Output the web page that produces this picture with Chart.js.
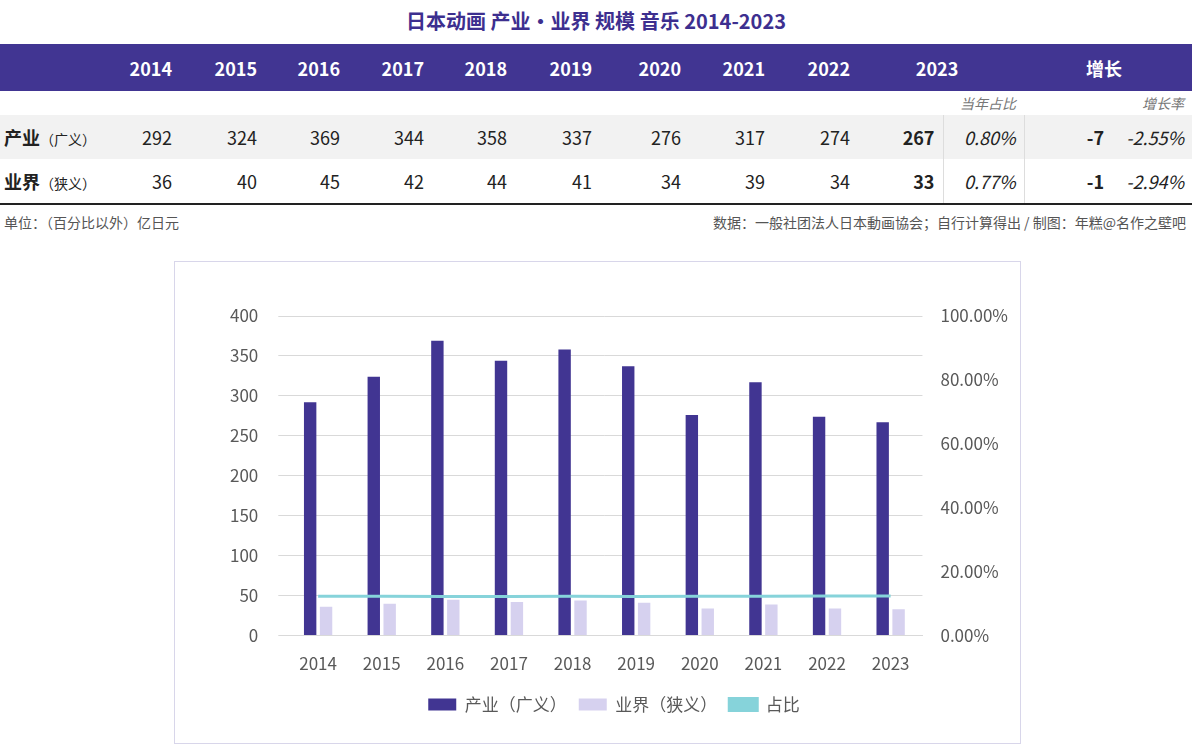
<!DOCTYPE html>
<html lang="zh">
<head>
<meta charset="UTF-8">
<script src="https://cdn.jsdelivr.net/npm/chart.js"></script>
<style>
  body { margin:0; width:1192px; height:746px; background:#fff; font-family:"Noto Sans CJK SC","Noto Sans",sans-serif; position:relative; overflow:hidden; }
  #title { position:absolute; top:6px; left:0; width:1192px; text-align:center; color:#3d2f8f; font-weight:bold; font-size:20px; }
  table { position:absolute; top:44px; left:0; width:1192px; border-collapse:collapse; table-layout:fixed; }
  td { padding:0 8px 0 0; text-align:right; font-size:18px; color:#222; white-space:nowrap; }
  tr.hd td { background:#413592; color:#fff; font-weight:bold; height:47px; }
  tr.sub td { height:24px; font-size:14px; color:#777; font-style:italic; }
  tr.r1 td { background:#f2f2f2; height:44px; }
  tr.r2 td { height:44px; border-bottom:2px solid #222; }
  td.lab { text-align:left; padding-left:4px; font-weight:bold; }
  td.lab span { font-weight:normal; font-size:14px; }
  td.it { font-style:italic; }
  td.sep { border-right:1px solid #ddd; }
  #foot { position:absolute; top:212px; left:4px; right:6px; font-size:14px; color:#555; }
  #foot .r { position:absolute; right:0; top:0; }
  #box { position:absolute; left:174px; top:261px; width:845px; height:481px; border:1px solid #d8d6ea; }
</style>
</head>
<body>
<div id="title">日本动画 产业・业界 规模 音乐 2014-2023</div>
<table id="tbl">
  <colgroup>
    <col style="width:96px"><col style="width:84px"><col style="width:85px"><col style="width:83px"><col style="width:84px"><col style="width:83px"><col style="width:85px"><col style="width:89px"><col style="width:84px"><col style="width:85px"><col style="width:85px"><col style="width:81px"><col style="width:88px"><col style="width:80px">
  </colgroup>
</table>
<div id="foot">单位：（百分比以外）亿日元<span class="r">数据：一般社团法人日本動画協会；自行计算得出 / 制图：年糕@名作之壁吧</span></div>
<div id="box"><canvas id="c" width="845" height="481"></canvas></div>
<script>
const years = ['2014','2015','2016','2017','2018','2019','2020','2021','2022','2023'];
const industry = [292, 324, 369, 344, 358, 337, 276, 317, 274, 267];
const business = [36, 40, 45, 42, 44, 41, 34, 39, 34, 33];
const ratio = [12.3, 12.3, 12.2, 12.2, 12.3, 12.2, 12.3, 12.3, 12.4, 12.4];
const shareText = ['0.80%', '0.77%'];
const growth = [-7, -1];
const growthText = ['-2.55%', '-2.94%'];

// table
const tbl = document.getElementById('tbl');
let h = '<tr class="hd"><td></td>' + years.slice(0, 9).map(y => '<td>' + y + '</td>').join('') +
  '<td colspan="2" style="text-align:center">2023</td><td colspan="2" style="text-align:center">增长</td></tr>';
h += '<tr class="sub"><td colspan="11"></td><td>当年占比</td><td></td><td>增长率</td></tr>';
const rows = [['产业', '（广义）', industry, 'r1'], ['业界', '（狭义）', business, 'r2']];
rows.forEach((r, i) => {
  h += '<tr class="' + r[3] + '"><td class="lab">' + r[0] + '<span>' + r[1] + '</span></td>' +
    r[2].slice(0, 9).map(v => '<td>' + v + '</td>').join('') +
    '<td class="sep" style="font-weight:bold">' + r[2][9] + '</td><td class="it sep">' + shareText[i] + '</td>' +
    '<td style="font-weight:bold">' + growth[i] + '</td><td class="it">' + growthText[i] + '</td></tr>';
});
tbl.insertAdjacentHTML('beforeend', h);

const font = { family: '"Noto Sans CJK SC","Noto Sans",sans-serif', size: 17 };
new Chart(document.getElementById('c'), {
  data: {
    labels: years,
    datasets: [
      { type: 'line', label: '占比', data: ratio, yAxisID: 'y1', borderColor: '#86d3da', backgroundColor: '#86d3da', borderWidth: 3, pointRadius: 0, order: 0 },
      { type: 'bar', label: '产业（广义）', data: industry, yAxisID: 'y', backgroundColor: '#413592', categoryPercentage: 0.5, barPercentage: 0.78, order: 1 },
      { type: 'bar', label: '业界（狭义）', data: business, yAxisID: 'y', backgroundColor: '#d6d1ef', categoryPercentage: 0.5, barPercentage: 0.78, order: 1 }
    ]
  },
  options: {
    responsive: false, animation: false,
    layout: { padding: { left: 35, right: 2, top: 54, bottom: 20 } },
    plugins: {
      legend: {
        position: 'bottom',
        labels: {
          font: font, color: '#595959', boxWidth: 28, boxHeight: 12, padding: 12,
          sort: (a, b) => [1, 2, 0].indexOf(a.datasetIndex) - [1, 2, 0].indexOf(b.datasetIndex)
        }
      },
      tooltip: { enabled: false }
    },
    scales: {
      x: { grid: { display: false }, border: { color: '#d9d9d9' }, ticks: { font: font, color: '#595959', padding: 10 } },
      y: { min: 0, max: 400, ticks: { stepSize: 50, font: font, color: '#595959', padding: 20 }, grid: { color: '#d9d9d9' }, border: { display: false } },
      y1: { position: 'right', min: 0, max: 100, ticks: { stepSize: 20, font: font, color: '#595959', padding: 10, callback: v => v.toFixed(2) + '%' }, grid: { display: false }, border: { display: false } }
    }
  }
});
</script>
</body>
</html>
